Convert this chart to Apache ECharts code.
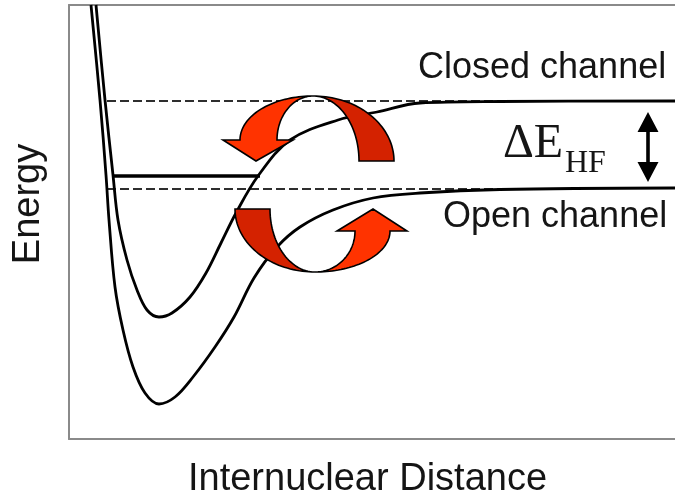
<!DOCTYPE html>
<html><head><meta charset="utf-8">
<script src="https://cdn.jsdelivr.net/npm/echarts@6/dist/echarts.min.js"></script>
<style>html,body{margin:0;padding:0;background:#fff}#c{width:675px;height:499px}</style>
</head><body><div id="c"></div>
<script>
// Potential curves: [internuclear distance, energy] (arbitrary units)
const closedChannel = [[27,434],[36,339],[44,264],[49,219],[58,179],[68,149],[78,129],[90,122],[103,126],[121,142],[137,166],[152,196],[167,226],[189,263],[221,299],[269,319],[308,327],[351,336],[431,337.5],[606,338]];
const openChannel = [[22,434],[31,339],[37,264],[40,219],[46,152],[54,109],[64,72],[76,46],[90,35],[106,42],[124,62],[146,92],[165,122],[185,161],[208,192],[231,212],[264,229],[304,241],[351,246],[431,249.5],[606,251]];
// Threshold energies (dashed) and their extent
const thresholdEnergies = [338, 250];
const thresholdRange = [38, 479];
// Bound state of the closed channel
const boundState = [[44,263],[191,263]];
// Hyperfine splitting arrow position
const hfArrowX = 579;
const hfArrowRange = [257, 327];

// Decoration geometry (curved coupling arrows), in data units
const upperArrow = {dark:{cx:244,cy:278,ry:65,ro:81,ri:46,a0:0,a1:90},
                    bright:{cx:244,cy:299,ry:44,ro:73,ri:36,a0:90,a1:180},
                    head:[[154,299],[187,278],[224,299]]};
const lowerArrow = {dark:{cx:246,cy:230,ry:63,ro:80,ri:45,a0:180,a1:270},
                    bright:{cx:246,cy:208,ry:41,ro:75,ri:40,a0:270,a1:360},
                    head:[[338,208],[304,230],[268,208]]};

function arcPts(c, r, a0, a1, n) {
  const p = [];
  for (let i = 0; i <= n; i++) {
    const t = (a0 + (a1 - a0) * i / n) * Math.PI / 180;
    p.push([c.cx + r * Math.cos(t), c.cy + c.ry * Math.sin(t)]);
  }
  return p;
}
function crescent(c) {
  return arcPts(c, c.ro, c.a0, c.a1, 40).concat(arcPts(c, c.ri, c.a1, c.a0, 40));
}
function arrowWithHead(c, head) {
  const outer = arcPts(c, c.ro, c.a0, c.a1, 40);
  const inner = arcPts(c, c.ri, c.a1, c.a0, 40);
  return outer.concat(head).concat(inner);
}

const chart = echarts.init(document.getElementById('c'));
const axisLine = {show:true, onZero:false, lineStyle:{color:'#8a8a8a', width:2}};
const noAxis = {axisTick:{show:false}, axisLabel:{show:false}, splitLine:{show:false}};

function lineSeries(data, style, z) {
  return {type:'line', data:data, showSymbol:false, symbol:'none', smooth:false,
          lineStyle:style, z:z, silent:true, clip:false};
}

const series = [];
series.push(Object.assign(lineSeries(closedChannel, {color:'#000', width:2.8}, 3), {smooth:0.35}));
series.push(Object.assign(lineSeries(openChannel, {color:'#000', width:2.8}, 3), {smooth:0.35}));
thresholdEnergies.forEach(function (e) {
  series.push(lineSeries([[thresholdRange[0], e], [thresholdRange[1], e]], {color:'#2e2e2e', width:2.2, type:[9,4]}, 2));
});
series.push(lineSeries(boundState, {color:'#000', width:3.6}, 3));

series.push({
  type:'custom', z:10, silent:true, clip:false,
  data:[[0,0]],
  renderItem:function (params, api) {
    const C = function (pts) { return pts.map(function (p) { return api.coord(p); }); };
    const stroke = {stroke:'#000', lineWidth:1.6, lineJoin:'miter'};
    const bright = '#ff3300', dark = '#d42200';
    const x = hfArrowX, y0 = hfArrowRange[0], y1 = hfArrowRange[1];
    const hw = 10.5, hh = 20, sw = 1.8;
    const dbl = [[x,y1],[x+hw,y1-hh],[x+sw,y1-hh],[x+sw,y0+hh],[x+hw,y0+hh],[x,y0],[x-hw,y0+hh],[x-sw,y0+hh],[x-sw,y1-hh],[x-hw,y1-hh]];
    return {type:'group', children:[
      {type:'polygon', shape:{points:C(crescent(upperArrow.dark))}, style:Object.assign({fill:dark}, stroke)},
      {type:'polygon', shape:{points:C(arrowWithHead(upperArrow.bright, upperArrow.head))}, style:Object.assign({fill:bright}, stroke)},
      {type:'polygon', shape:{points:C(crescent(lowerArrow.dark))}, style:Object.assign({fill:dark}, stroke)},
      {type:'polygon', shape:{points:C(arrowWithHead(lowerArrow.bright, lowerArrow.head))}, style:Object.assign({fill:bright}, stroke)},
      {type:'polygon', shape:{points:C(dbl)}, style:{fill:'#000'}}
    ]};
  }
});

const txt = '#151515';
chart.setOption({
  animation:false,
  backgroundColor:'#fff',
  grid:{left:69, right:0, top:5, bottom:60, containLabel:false},
  xAxis:[
    Object.assign({type:'value', min:0, max:606, position:'bottom', axisLine:axisLine}, noAxis),
    Object.assign({type:'value', min:0, max:606, position:'top', axisLine:axisLine}, noAxis)
  ],
  yAxis:[Object.assign({type:'value', min:0, max:434, position:'left', axisLine:axisLine}, noAxis)],
  series:series,
  graphic:[
    {type:'text', x:418, y:68.5, style:{text:'Closed channel', font:'36px "Liberation Sans"', fill:txt, align:'left', verticalAlign:'middle'}},
    {type:'text', x:443, y:217.5, style:{text:'Open channel', font:'36px "Liberation Sans"', fill:txt, align:'left', verticalAlign:'middle'}},
    {type:'text', x:503, y:144, style:{text:'ΔE', font:'48px "Liberation Serif"', fill:txt, align:'left', verticalAlign:'middle'}},
    {type:'text', x:565, y:164, style:{text:'HF', font:'32px "Liberation Serif"', fill:txt, align:'left', verticalAlign:'middle'}},
    {type:'text', x:367.5, y:480, style:{text:'Internuclear Distance', font:'38px "Liberation Sans"', fill:txt, align:'center', verticalAlign:'middle'}},
    {type:'text', x:28.8, y:204, rotation:Math.PI/2, style:{text:'Energy', font:'38px "Liberation Sans"', fill:txt, align:'center', verticalAlign:'middle'}}
  ]
});
</script></body></html>
